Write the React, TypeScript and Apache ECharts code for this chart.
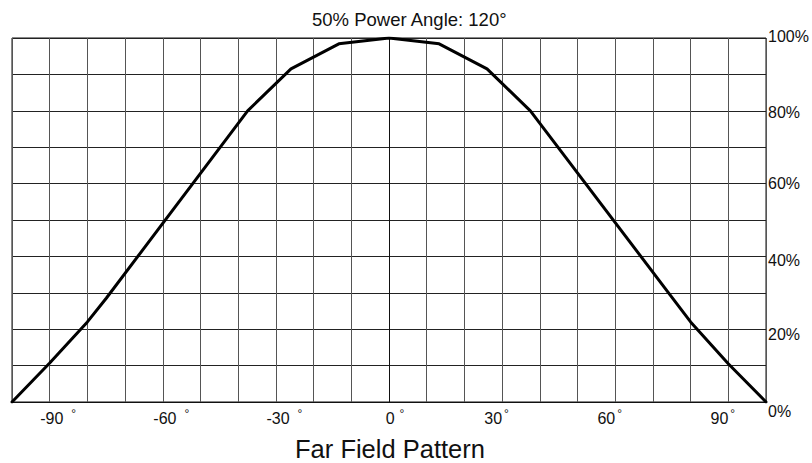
import React, { useEffect, useRef } from "react";
import * as echarts from "echarts";

const angles = [-100, -90, -80, -75, -37.5, -26, -13.3, 0, 13.3, 26, 37.5, 74.5, 80, 90, 100];
const power = [0, 10.7, 22, 28.5, 80, 91.5, 98.4, 100, 98.4, 91.5, 80, 29.5, 22, 10.5, 0];
const xTickLabels = [-90, -60, -30, 0, 30, 60, 90];
const yTickLabels = [0, 20, 40, 60, 80, 100];
const titleText = "50% Power Angle: 120°";
const footerText = "Far Field Pattern";

const FONT = "'Liberation Sans', Arial, Helvetica, sans-serif";
// small vertical nudges of the right-hand labels, as in the reference
const yLabelNudge: Record<number, number> = { 0: 9, 20: 5, 40: 4, 60: 0, 80: 2, 100: -2 };

export default function App() {
  const ref = useRef<HTMLDivElement>(null);
  useEffect(() => {
    if (!ref.current) return;
    const chart = echarts.init(ref.current, null, { renderer: "svg" });
    const data = angles.map((a, i) => [a, power[i]]);
    chart.setOption({
      animation: false,
      backgroundColor: "#ffffff",
      grid: { left: 12, top: 38, width: 754, height: 364, show: true, borderColor: "#111", borderWidth: 1, containLabel: false },
      xAxis: {
        type: "value",
        min: -100,
        max: 100,
        interval: 10,
        axisLine: { show: true, onZero: false, lineStyle: { color: "#111", width: 1 } },
        axisTick: { show: false },
        splitLine: { show: true, lineStyle: { color: "#555", width: 1 } },
        axisLabel: {
          margin: 6,
          fontFamily: FONT,
          color: "#111",
          formatter: (v: number) => {
            if (!xTickLabels.includes(v)) return "";
            if (v < 0) return `{nn|${v}}{dn|°}`;
            if (v === 0) return `{nz|${v}}{dz|°}`;
            return `{np|${v}}{dp|°}`;
          },
          rich: {
            nn: { fontSize: 16, fontFamily: FONT, color: "#111", padding: [0, 0, 0, 17] },
            dn: { fontSize: 12, fontFamily: FONT, color: "#111", padding: [0, 0, 8, 8] },
            nz: { fontSize: 16, fontFamily: FONT, color: "#111", padding: [0, 0, 0, 12] },
            dz: { fontSize: 12, fontFamily: FONT, color: "#111", padding: [0, 0, 8, 5] },
            np: { fontSize: 16, fontFamily: FONT, color: "#111" },
            dp: { fontSize: 12, fontFamily: FONT, color: "#111", padding: [0, 11, 8, 2] },
          },
        },
      },
      yAxis: {
        type: "value",
        position: "right",
        min: 0,
        max: 100,
        interval: 10,
        axisLine: { show: true, lineStyle: { color: "#111", width: 1 } },
        axisTick: { show: false },
        splitLine: { show: true, lineStyle: { color: "#222", width: 1 } },
        axisLabel: {
          margin: 2,
          fontFamily: FONT,
          fontSize: 16,
          color: "#111",
          formatter: (v: number) => {
            if (!yTickLabels.includes(v)) return "";
            const n = yLabelNudge[v] || 0;
            const pad = n >= 0 ? [2 * n, 0, 0, 0] : [0, 0, -2 * n, 0];
            return `{a${v}|${v}%}`;
          },
          rich: Object.fromEntries(
            yTickLabels.map((v) => {
              const n = yLabelNudge[v] || 0;
              const pad = n >= 0 ? [2 * n, 0, 0, 0] : [0, 0, -2 * n, 0];
              return [`a${v}`, { fontSize: 16, fontFamily: FONT, color: "#111", padding: pad }];
            })
          ),
        },
      },
      series: [
        {
          type: "line",
          data,
          symbol: "none",
          lineStyle: { color: "#000", width: 3, join: "round", cap: "round" },
          z: 5,
        },
      ],
      graphic: [
        {
          type: "text",
          x: 312,
          y: 19,
          style: { text: titleText, font: `18.5px ${FONT}`, fill: "#111", textAlign: "left", textVerticalAlign: "middle" },
        },
        {
          type: "text",
          x: 390,
          y: 449,
          style: { text: footerText, font: `25.5px ${FONT}`, fill: "#111", textAlign: "center", textVerticalAlign: "middle" },
        },
      ],
    });
    return () => chart.dispose();
  }, []);
  return <div ref={ref} style={{ position: "fixed", left: 0, top: 0, width: 812, height: 463 }} />;
}
